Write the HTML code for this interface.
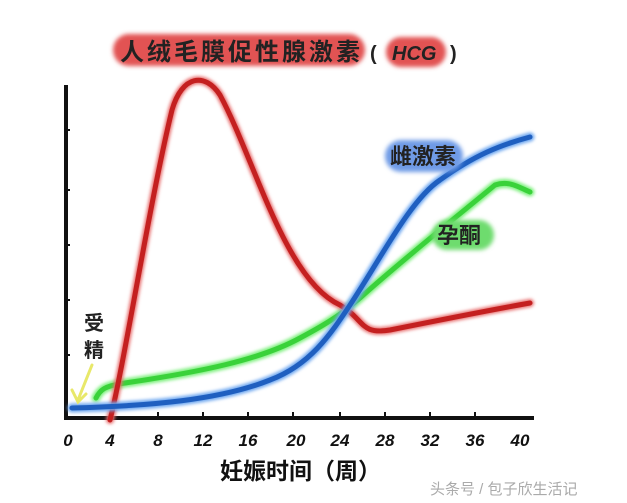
<!DOCTYPE html>
<html><head><meta charset="utf-8"><style>
body{margin:0;background:#fff;width:627px;height:503px;overflow:hidden}
svg{display:block}
text{font-family:"Liberation Sans","WenQuanYi Zen Hei","Noto Sans CJK SC",sans-serif}
</style></head><body>
<svg width="627" height="503" viewBox="0 0 627 503">
<defs><filter id="b" x="-20%" y="-50%" width="140%" height="200%"><feGaussianBlur stdDeviation="2"/></filter>
<filter id="g"><feGaussianBlur stdDeviation="1.5"/></filter></defs>
<!-- title -->
<rect x="113" y="34" width="252" height="32" rx="16" fill="#e25252" filter="url(#b)"/>
<rect x="386" y="37" width="60" height="30" rx="15" fill="#e25252" filter="url(#b)"/>
<text x="120" y="60" font-size="24" font-weight="bold" fill="#222" textLength="240">人绒毛膜促性腺激素</text>
<text x="370" y="60" font-size="20" font-weight="bold" fill="#222">(</text>
<text x="392" y="60" font-size="20" font-weight="bold" font-style="italic" fill="#222">HCG</text>
<text x="450" y="60" font-size="20" font-weight="bold" fill="#222">)</text>
<!-- axes -->
<path d="M66 85 L66 418 L534 418" stroke="#111" stroke-width="4" fill="none"/>
<g stroke="#111" stroke-width="2">
<line x1="158" y1="412" x2="158" y2="418"/><line x1="203" y1="412" x2="203" y2="418"/><line x1="248" y1="412" x2="248" y2="418"/><line x1="293" y1="412" x2="293" y2="418"/><line x1="340" y1="412" x2="340" y2="418"/><line x1="385" y1="412" x2="385" y2="418"/><line x1="430" y1="412" x2="430" y2="418"/><line x1="475" y1="412" x2="475" y2="418"/>
<line x1="66" y1="130" x2="70" y2="130"/><line x1="66" y1="190" x2="70" y2="190"/><line x1="66" y1="245" x2="70" y2="245"/><line x1="66" y1="300" x2="70" y2="300"/><line x1="66" y1="355" x2="70" y2="355"/>
</g>
<g font-size="17" font-weight="bold" font-style="italic" fill="#111" text-anchor="middle">
<text x="68" y="446">0</text><text x="110" y="446">4</text><text x="158" y="446">8</text><text x="203" y="446">12</text><text x="248" y="446">16</text><text x="296" y="446">20</text><text x="340" y="446">24</text><text x="385" y="446">28</text><text x="430" y="446">32</text><text x="475" y="446">36</text><text x="520" y="446">40</text>
</g>
<text x="220" y="479" font-size="23" font-weight="bold" fill="#111">妊娠时间（周）</text>
<text x="430" y="494" font-size="15" fill="#aaa">头条号 / 包子欣生活记</text>
<!-- curves -->
<g fill="none" stroke-linecap="round" stroke-width="5">
<path d="M96 398 C100 390 104 386 125 383 C200 372 260 360 300 338 C330 322 340 315 360 298 C400 262 450 222 495 185 C510 180 520 188 530 192" stroke="#7ef07e" stroke-width="9" filter="url(#g)"/>
<path d="M96 398 C100 390 104 386 125 383 C200 372 260 360 300 338 C330 322 340 315 360 298 C400 262 450 222 495 185 C510 180 520 188 530 192" stroke="#3ad23a"/>
<path d="M110 420 C125 360 150 200 172 110 C182 75 205 72 220 95 C255 160 285 280 340 305 C365 320 360 335 390 330 C440 320 490 310 530 303" stroke="#e87070" stroke-width="8" filter="url(#g)"/>
<path d="M110 420 C125 360 150 200 172 110 C182 75 205 72 220 95 C255 160 285 280 340 305 C365 320 360 335 390 330 C440 320 490 310 530 303" stroke="#c42020"/>
<path d="M72 408 C150 406 220 400 270 380 C310 365 330 335 350 305 C380 260 410 200 440 180 C475 155 500 145 530 137" stroke="#70a8f0" stroke-width="9" filter="url(#g)"/>
<path d="M72 408 C150 406 220 400 270 380 C310 365 330 335 350 305 C380 260 410 200 440 180 C475 155 500 145 530 137" stroke="#1f5fc0"/>
</g>
<!-- legends -->
<rect x="385" y="140" width="78" height="32" rx="16" fill="#6f9be6" filter="url(#b)"/>
<text x="390" y="164" font-size="22" font-weight="bold" fill="#222">雌激素</text>
<rect x="432" y="220" width="62" height="30" rx="15" fill="#6edc6e" filter="url(#b)"/>
<text x="437" y="243" font-size="22" font-weight="bold" fill="#222">孕酮</text>
<!-- 受精 -->
<text x="84" y="330" font-size="20" font-weight="bold" fill="#222">受</text>
<text x="84" y="357" font-size="20" font-weight="bold" fill="#222">精</text>
<path d="M92 365 L78 400 M72 390 L78 402 L86 394" stroke="#e8e86a" stroke-width="3" fill="none" stroke-linecap="round"/>
</svg>
</body></html>
